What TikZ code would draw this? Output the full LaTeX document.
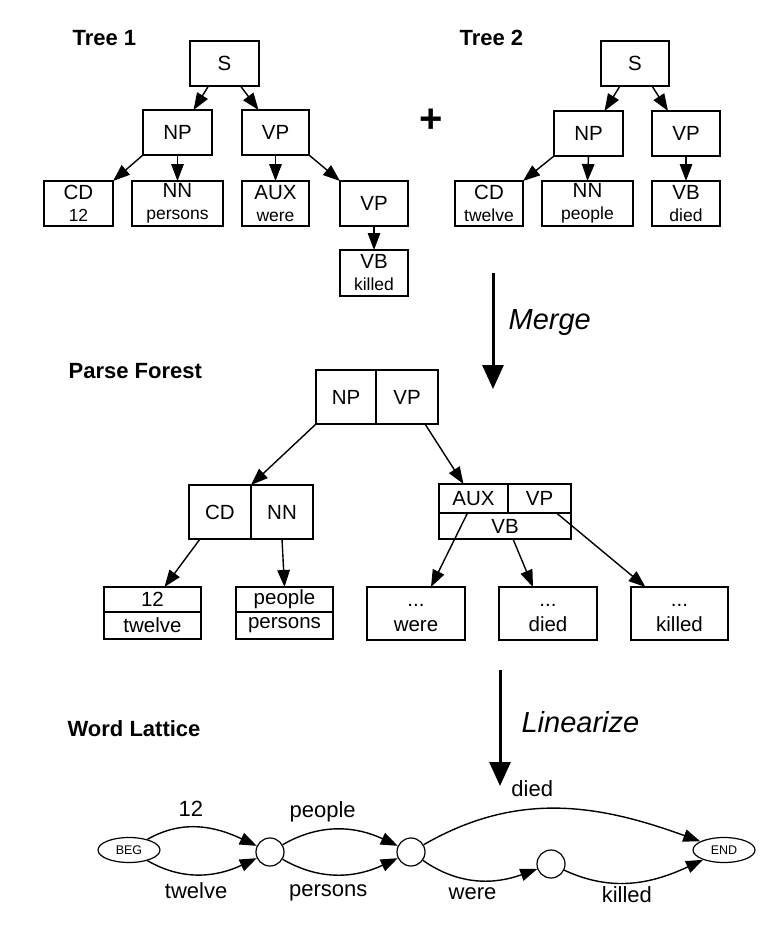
\documentclass[tikz,border=0pt]{standalone}
\usepackage{fontspec}
\setmainfont{Liberation Sans}
\usetikzlibrary{positioning,arrows.meta,shapes.geometric}
\newcommand{\subl}[1]{{\fontsize{17.5}{22}\selectfont #1}}

\begin{document}
\begin{tikzpicture}[
  x=1pt, y=-1pt,
  line width=1.2pt,
  tbox/.style={draw, inner sep=0pt, outer sep=0pt, minimum width=68pt, minimum height=45pt, align=center, font=\fontsize{20.5}{22}\selectfont},
  fbox/.style={draw, inner sep=0pt, outer sep=0pt, minimum height=54pt, font=\fontsize{20.5}{22}\selectfont},
  cell/.style={draw, inner sep=0pt, outer sep=0pt, minimum width=97pt, align=center, font=\fontsize{20.5}{25}\selectfont},
  title/.style={font=\fontsize{22}{24}\selectfont\bfseries, inner sep=0pt, anchor=base west},
  oplabel/.style={font=\fontsize{29}{32}\selectfont\itshape, inner sep=0pt, anchor=base west},
  arrow/.style={-{Triangle[length=17pt,width=12.5pt]}, line width=1.4pt},
  bigarrow/.style={-{Triangle[length=24pt,width=21pt]}, line width=3pt},
  state/.style={draw, circle, minimum size=28pt, inner sep=0pt},
  term/.style={draw, ellipse, minimum width=62pt, minimum height=25pt, inner sep=0pt, font=\fontsize{12.5}{14}\selectfont},
  word/.style={font=\fontsize{22}{24}\selectfont, inner sep=0pt}
]
\useasboundingbox (0,0) rectangle (777,929);

\node[title] (tree1title) at (72,45) {Tree 1};
\node[title] (tree2title) at (459,45) {Tree 2};
\node[font=\fontsize{40}{40}\selectfont\bfseries, inner sep=0pt] (plus) at (431,121) {+};

\node[tbox, minimum width=69pt] (s1) at (224.5,63.5) {S};
\node[tbox, minimum width=69pt] (np1) at (177.5,132.5) {NP};
\node[tbox, minimum width=67pt] (vp1) at (275.5,132.5) {VP};
\node[tbox, minimum width=69pt] (cd1) at (78.5,203.5) {CD\\\subl{12}};
\node[tbox, minimum width=91pt] (nn1) at (177.5,203.5) {NN\\\subl{persons}};
\node[tbox, minimum width=67pt] (aux1) at (275.5,203.5) {AUX\\\subl{were}};
\node[tbox] (vpb1) at (374,203.5) {VP};
\node[tbox, minimum height=46pt] (vb1) at (374,273) {VB\\\subl{killed}};

\draw[arrow] ([xshift=-16pt]s1.south) -- ([xshift=16pt]np1.north);
\draw[arrow] ([xshift=16pt]s1.south) -- ([xshift=-17pt]vp1.north);
\draw[arrow] (np1.south west) -- (cd1.north east);
\draw[arrow] (np1.south) -- (nn1.north);
\draw[arrow] (vp1.south) -- (aux1.north);
\draw[arrow] (vp1.south east) -- (vpb1.north west);
\draw[arrow] (vpb1.south) -- (vb1.north);

\node[tbox] (s2) at (635,63.5) {S};
\node[tbox, minimum width=69pt] (np2) at (588.5,133.5) {NP};
\node[tbox] (vp2) at (686,133.5) {VP};
\node[tbox] (cd2) at (489,203.5) {CD\\\subl{twelve}};
\node[tbox, minimum width=91pt] (nn2) at (587.5,203.5) {NN\\\subl{people}};
\node[tbox] (vb2) at (686,203.5) {VB\\\subl{died}};

\draw[arrow] ([xshift=-15pt]s2.south) -- ([xshift=16pt]np2.north);
\draw[arrow] ([xshift=17pt]s2.south) -- ([xshift=-18pt]vp2.north);
\draw[arrow] (np2.south west) -- (cd2.north east);
\draw[arrow] (np2.south) -- (nn2.north);
\draw[arrow] (vp2.south) -- (vb2.north);

\coordinate (mergetop) at (493,273);
\coordinate (mergetip) at (493,389);
\draw[bigarrow] (mergetop) -- (mergetip);
\node[oplabel] (mergelabel) at (508,329) {Merge};

\node[title] (foresttitle) at (68,378) {Parse Forest};
\node[fbox, minimum width=60pt] (fnp) at (346,397) {NP};
\node[fbox, minimum width=62pt, right=0pt of fnp] (fvp) {VP};
\node[fbox, minimum width=62pt] (fcd) at (220,512) {CD};
\node[fbox, minimum width=62pt, right=0pt of fcd] (fnn) {NN};
\node[fbox, minimum width=69pt, minimum height=29pt] (faux) at (473.5,498.5) {AUX};
\node[fbox, minimum width=63pt, minimum height=29pt, right=0pt of faux] (fvpx) {VP};
\node[fbox, minimum width=132pt, minimum height=26pt] (fvb) at (505,526) {VB};

\node[cell, minimum height=25pt] (f12) at (152.5,599.5) {12};
\node[cell, minimum height=27pt, below=0pt of f12] (ftwelve) {twelve};
\node[cell, minimum height=25pt] (fpeople) at (284.5,599.5) {people};
\node[cell, minimum height=27pt, below=0pt of fpeople] (fpersons) {persons};
\node[cell, minimum width=98pt, minimum height=53pt] (fwere) at (416,613.5) {\strut...\\\strut were};
\node[cell, minimum width=98pt, minimum height=53pt] (fdied) at (548,613.5) {\strut...\\\strut died};
\node[cell, minimum width=97pt, minimum height=53pt] (fkilled) at (679.5,613.5) {\strut...\\\strut killed};

\draw[arrow] (fnp.south west) -- (fcd.north east);
\draw[arrow] ([xshift=18pt]fvp.south) -- ([xshift=-10pt]faux.north);
\draw[arrow] ([xshift=-20pt]fcd.south) -- ([xshift=12pt]f12.north);
\draw[arrow] (fnn.south) -- (fpeople.north);
\draw[arrow] ([xshift=-6pt]faux.south) -- ([xshift=15pt]fwere.north);
\draw[arrow] ([xshift=8pt]fvb.south) -- ([xshift=-15pt]fdied.north);
\draw[arrow] ([xshift=17pt]fvpx.south) -- ([xshift=-34pt]fkilled.north);

\coordinate (lineartop) at (500,670);
\coordinate (lineartip) at (500,786);
\draw[bigarrow] (lineartop) -- (lineartip);
\node[oplabel] (linearlabel) at (521,732) {Linearize};

\node[title] (latticetitle) at (67,736) {Word Lattice};
\node[term] (lbeg) at (129,850) {BEG};
\node[state] (c1) at (270,852) {};
\node[state] (c2) at (411,852) {};
\node[state] (c3) at (551,864) {};
\node[term] (lend) at (724,850) {END};

\draw[arrow] (lbeg) to[out=30, in=155] node[word, pos=.4, above=10pt] (w12) {12} (c1);
\draw[arrow] (lbeg) to[out=-30, in=205] node[word, pos=.45, below=7pt] (wtwelve) {twelve} (c1);
\draw[arrow] (c1) to[out=30, in=155] node[word, pos=.35, above=8pt] (wpeople) {people} (c2);
\draw[arrow] (c1) to[out=-30, in=205] node[word, pos=.4, below=10pt] (wpersons) {persons} (c2);
\draw[arrow] (c2) to[out=30, in=160] node[word, pos=.4, above=12pt] (wdied) {died} (lend);
\draw[arrow] (c2) to[out=-35, in=200] node[word, pos=.45, below=7pt] (wwere) {were} (c3);
\draw[arrow] (c3) to[out=-25, in=205] node[word, pos=.45, below=3pt] (wkilled) {killed} (lend);
\end{tikzpicture}
\end{document}
